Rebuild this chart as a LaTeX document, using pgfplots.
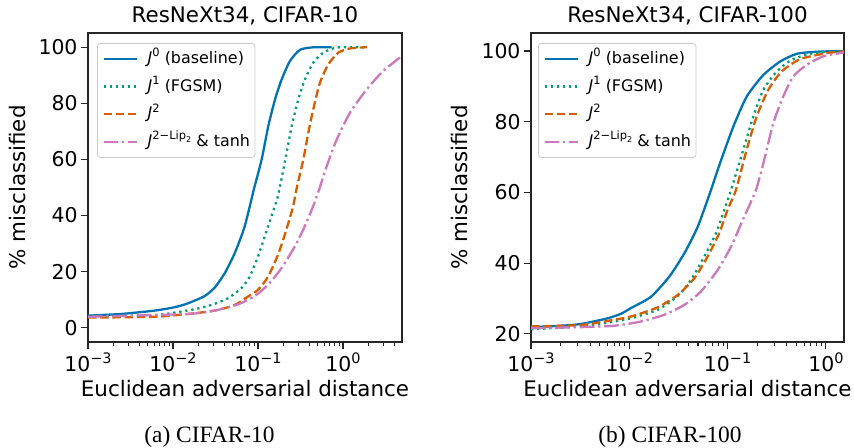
\documentclass[border=0pt]{standalone}
\usepackage{fontspec}
\setmainfont{DejaVu Sans}
\newfontfamily\capfont{Liberation Serif}
\usepackage{pgfplots}
\pgfplotsset{compat=1.18}

\definecolor{cbblue}{HTML}{0173B2}
\definecolor{cbgreen}{HTML}{029E73}
\definecolor{cborange}{HTML}{D55E00}
\definecolor{cbpink}{HTML}{CC78BC}

\newcommand\tp[1]{10\raisebox{0.42em}{\fontsize{14.5}{15}\selectfont #1}}
\newcommand\sx[1]{\raisebox{0.42em}{\fontsize{11.5}{12}\selectfont #1}}
\newcommand\J{\textit{J}}

\pgfplotsset{
  every axis/.append style={
    scale only axis,
    axis line style={black!85, line width=1.2bp},
    tick style={black!85, line width=1.1bp},
    tick align=outside, major tick length=7bp, minor tick length=4bp,
    xtick pos=left, ytick pos=left,
    tick label style={font=\fontsize{20.5}{24}\selectfont},
    label style={font=\fontsize{21.5}{26}\selectfont},
    every axis title/.style={font=\fontsize{21.5}{26}\selectfont,
      at={(axis description cs:0.5,1.0324)}, anchor=base},
    legend cell align=left,
    legend style={draw=black!20, rounded corners=3bp,
      fill=white, fill opacity=0.8, text opacity=1, line width=0.8bp,
      font=\fontsize{16}{19}\selectfont,
      nodes={inner sep=0pt, text height=13bp, text depth=4bp},
      row sep=10.7bp, column sep=10bp, inner xsep=5bp, inner ysep=7bp},
  },
}
\tikzset{
  sBase/.style={cbblue, line width=2.3bp, solid},
  sFgsm/.style={cbgreen, line width=2.3bp, dash pattern=on 2.3bp off 3.8bp},
  sJtwo/.style={cborange, line width=2.3bp, dash pattern=on 8.5bp off 3.7bp},
  sLip/.style={cbpink, line width=2.3bp, dash pattern=on 14.7bp off 3.7bp on 2.3bp off 3.7bp},
}

\begin{document}
\begin{tikzpicture}[x=1bp,y=1bp]
\useasboundingbox (0,0) rectangle (854,448);

\begin{axis}[
  xmode=log,
  at={(88bp,106bp)}, anchor=south west, width=314bp, height=309bp,
  xmin=0.001, xmax=4.94, ymin=-5.1, ymax=105.1,
  xtick={0.001,0.01,0.1,1},
  xticklabels={\tp{−3},\tp{−2},\tp{−1},\tp{0}},
  minor xtick={0.002,0.003,0.004,0.005,0.006,0.007,0.008,0.009,
    0.02,0.03,0.04,0.05,0.06,0.07,0.08,0.09,
    0.2,0.3,0.4,0.5,0.6,0.7,0.8,0.9,2,3,4},
  ytick={0,20,40,60,80,100},
  yticklabels={0,20,40,60,80,100},
  title={ResNeXt34, CIFAR-10},
  xlabel={Euclidean adversarial distance},
  xlabel style={at={(axis description cs:0.5,-0.178)}, anchor=base},
  ylabel={\% misclassified},
  ylabel style={at={(axis description cs:-0.2229,0.5)}, anchor=center},
  legend style={at={(axis description cs:0.0287,0.9676)}, anchor=north west},
  legend image code/.code={\draw[#1] (0bp,0bp) -- (33bp,0bp);},
]
\addplot[sBase, smooth, tension=0.4] coordinates {
(0.001,4.3) (0.002466,4.9) (0.006095,6.1) (0.01047,7.3) (0.0150,8.7)
(0.0236,11.3) (0.0309,14.3) (0.04055,19.4) (0.05321,26.6) (0.06966,36.1)
(0.08913,49.2) (0.1104,60.0) (0.1321,71.9) (0.1585,81.4) (0.1901,88.6)
(0.2377,95.1) (0.3119,99.1) (0.4467,100) (0.7362,100)};
\addlegendentry{\J\sx{0} (baseline)}
\addplot[sFgsm, smooth, tension=0.4] coordinates {
(0.001,3.9) (0.006095,4.5) (0.01047,5.4) (0.01799,6.6) (0.02818,8.1)
(0.04436,10.5) (0.06368,14.1) (0.0798,18.2) (0.1,25.4) (0.1199,32.5)
(0.1435,39.6) (0.1718,47.0) (0.2080,59.5) (0.2489,71.9) (0.2979,81.4)
(0.3573,88.6) (0.4467,94.5) (0.5861,98.1) (0.8433,99.9) (1.449,100) (1.901,100)};
\addlegendentry{\J\sx{1} (FGSM)}
\addplot[sJtwo, smooth, tension=0.4] coordinates {
(0.001,3.6) (0.006095,3.9) (0.015,4.9) (0.0309,6.1) (0.05321,8.1)
(0.07621,11.1) (0.1,13.5) (0.1312,18.2) (0.1718,26.0) (0.2153,34.9)
(0.2582,43.2) (0.2825,49.2) (0.3412,60.0) (0.3908,69.5) (0.4467,77.9)
(0.5358,87.4) (0.6714,93.9) (0.881,98.1) (1.208,99.6) (1.816,100) (1.905,100)};
\addlegendentry{\J\sx{2}}
\addplot[sLip, smooth, tension=0.4] coordinates {
(0.001,3.9) (0.015,4.9) (0.0309,6.1) (0.05821,8.3) (0.09141,11.3)
(0.1312,15.3) (0.1884,21.2) (0.2698,28.9) (0.354,36.1) (0.4436,43.2)
(0.5224,49.2) (0.6427,57.6) (0.8433,67.1) (1.208,76.7) (1.901,85.0)
(2.979,91.6) (4.943,96.9)};
\addlegendentry{\J\sx{2−Lip\raisebox{-0.25em}{\fontsize{8}{8}\selectfont 2}} \& tanh}
\end{axis}

\begin{axis}[
  xmode=log,
  at={(531bp,106bp)}, anchor=south west, width=313bp, height=309bp,
  xmin=0.001, xmax=1.528, ymin=17.7, ymax=105.1,
  xtick={0.001,0.01,0.1,1},
  xticklabels={\tp{−3},\tp{−2},\tp{−1},\tp{0}},
  minor xtick={0.002,0.003,0.004,0.005,0.006,0.007,0.008,0.009,
    0.02,0.03,0.04,0.05,0.06,0.07,0.08,0.09,
    0.2,0.3,0.4,0.5,0.6,0.7,0.8,0.9},
  ytick={20,40,60,80,100},
  yticklabels={20,40,60,80,100},
  title={ResNeXt34, CIFAR-100},
  xlabel={Euclidean adversarial distance},
  xlabel style={at={(axis description cs:0.5,-0.178)}, anchor=base},
  ylabel={\% misclassified},
  ylabel style={at={(axis description cs:-0.230,0.5)}, anchor=center},
  legend style={at={(axis description cs:0.0224,0.9676)}, anchor=north west},
  legend image code/.code={\draw[#1] (0bp,0bp) -- (33bp,0bp);},
]
\addplot[sBase, smooth, tension=0.4] coordinates {
(0.001,21.9) (0.002018,22.3) (0.003228,22.8) (0.006026,24.4) (0.008241,25.7)
(0.0104,27.3) (0.01663,30.5) (0.02553,36.2) (0.03631,42.8) (0.04966,50.3)
(0.06776,60.7) (0.08375,68.3) (0.1143,78.6) (0.1563,87.1) (0.2307,93.2)
(0.3412,97.0) (0.5047,99.2) (0.8054,99.8) (1.528,100)};
\addlegendentry{\J\sx{0} (baseline)}
\addplot[sFgsm, smooth, tension=0.4] coordinates {
(0.001,21.3) (0.003228,22.1) (0.007047,23.5) (0.0104,24.4) (0.01945,26.8)
(0.03105,30.7) (0.04246,35.3) (0.05794,41.9) (0.07621,48.5) (0.09268,55.1)
(0.1084,60.7) (0.1445,72.1) (0.1828,81.5) (0.2307,89.0) (0.3162,94.2)
(0.4487,97.5) (0.7447,99.4) (1.528,99.9)};
\addlegendentry{\J\sx{1} (FGSM)}
\addplot[sJtwo, smooth, tension=0.4] coordinates {
(0.001,22.1) (0.003228,22.5) (0.007047,24.0) (0.0104,24.9) (0.01945,27.5)
(0.03105,31.0) (0.04581,35.7) (0.06266,41.9) (0.08222,48.5) (0.1,55.1)
(0.1216,60.7) (0.1563,72.1) (0.1977,81.5) (0.2594,89.0) (0.3548,94.2)
(0.5458,97.7) (1.019,99.4) (1.528,99.9)};
\addlegendentry{\J\sx{2}}
\addplot[sLip, smooth, tension=0.4] coordinates {
(0.001,21.6) (0.003228,21.9) (0.007047,22.3) (0.01315,23.5) (0.0227,25.4)
(0.03631,28.2) (0.05358,32.0) (0.07943,38.1) (0.1084,44.7) (0.1479,53.2)
(0.1945,60.7) (0.2371,69.5) (0.2917,79.6) (0.369,87.2) (0.4656,92.8)
(0.6383,96.1) (0.9419,98.5) (1.528,99.6)};
\addlegendentry{\J\sx{2−Lip\raisebox{-0.25em}{\fontsize{8}{8}\selectfont 2}} \& tanh}
\end{axis}

\node[font=\capfont\fontsize{23.5}{28}\selectfont, anchor=base] at (209.5,5) {(a) CIFAR-10};
\node[font=\capfont\fontsize{23.5}{28}\selectfont, anchor=base] at (670,5) {(b) CIFAR-100};
\end{tikzpicture}
\end{document}
